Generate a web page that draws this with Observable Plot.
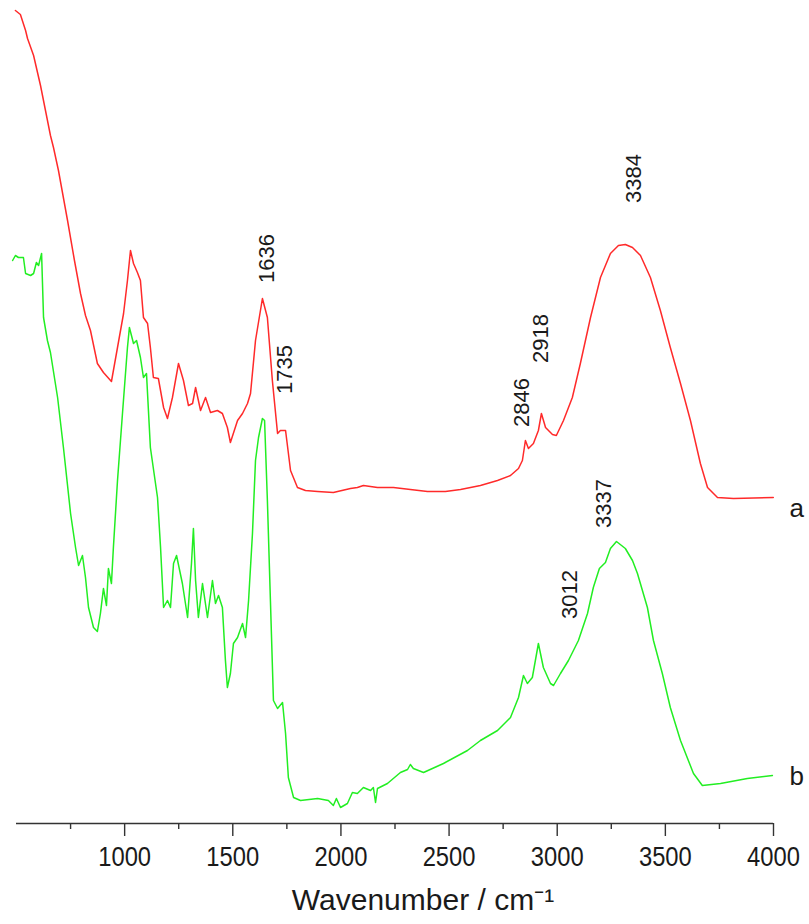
<!DOCTYPE html>
<html>
<head>
<meta charset="utf-8">
<script src="https://cdn.jsdelivr.net/npm/d3@7"></script>
<script src="https://cdn.jsdelivr.net/npm/@observablehq/plot@0.6"></script>
<style>
  html, body { margin: 0; padding: 0; background: #fff; }
  #chart svg { display: block; }
</style>
</head>
<body>
<div id="chart"></div>
<script>
// Spectrum a (red): wavenumber (cm-1) and relative intensity (a.u.)
const waveA = [495,518,542,551,579,611,634,657,671,694,736,768,796,819,842,874,902,939,967,995,1013,1027,1041,1059,1073,1087,1106,1119,1133,1156,1180,1198,1221,1249,1272,1295,1314,1328,1351,1374,1397,1429,1452,1475,1489,1522,1545,1568,1582,1605,1637,1660,1683,1707,1720,1744,1767,1799,1836,1892,1965,2044,2076,2104,2169,2243,2321,2400,2483,2553,2645,2724,2784,2821,2839,2853,2867,2890,2913,2927,2946,2978,2996,3029,3070,3107,3154,3200,3246,3283,3315,3348,3385,3431,3477,3523,3570,3616,3662,3695,3741,3815,3999];
const intensA = [813,809,793,785,768,738,713,688,676,653,603,563,530,508,493,460,451,442,476,510,543,573,560,551,543,506,500,476,446,445,416,405,426,460,443,418,420,436,413,426,411,413,410,396,381,403,410,420,430,483,525,506,443,390,393,393,353,336,333,332,331,335,336,338,336,336,334,332,332,334,338,343,348,355,363,383,375,380,393,410,396,389,388,403,426,460,506,546,570,578,579,576,568,546,513,476,440,403,360,336,326,325,326];

// Spectrum b (green)
const waveB = [482,495,509,532,542,565,579,592,602,616,625,643,657,690,717,750,773,787,805,819,833,856,874,888,902,916,925,939,948,967,990,1013,1022,1041,1055,1073,1087,1101,1119,1152,1166,1180,1198,1212,1226,1240,1267,1291,1309,1318,1328,1341,1360,1383,1406,1420,1434,1452,1466,1475,1489,1503,1522,1545,1559,1573,1591,1605,1619,1637,1647,1660,1674,1688,1707,1730,1744,1757,1781,1813,1892,1942,1965,1979,1998,2030,2053,2076,2104,2137,2150,2160,2169,2215,2275,2308,2321,2335,2382,2474,2585,2645,2724,2784,2821,2844,2862,2885,2899,2913,2936,2969,2983,3015,3052,3098,3140,3167,3195,3223,3246,3274,3315,3348,3371,3417,3445,3486,3523,3570,3630,3671,3755,3879,3995];
const intensB = [563,568,566,566,550,548,550,561,558,570,506,483,471,426,376,310,276,258,268,246,216,196,192,210,235,218,255,240,276,343,410,476,496,480,483,466,446,450,376,326,276,216,223,216,260,268,240,206,260,295,243,206,240,206,243,220,228,216,163,136,150,180,186,200,186,223,290,363,386,405,403,323,223,123,115,121,90,46,26,23,25,23,18,25,16,20,31,30,36,33,36,21,35,40,51,54,59,55,51,60,73,83,93,106,126,148,140,146,163,180,156,140,138,150,163,183,210,236,255,261,275,282,275,263,250,216,183,150,116,83,50,38,40,45,48];

// Peak annotations
const peakText = ["1636","1735","2846","2918","3384","3337","3012"];
const peakWave = [1656,1739,2839,2927,3357,3214,3061];
const peakIntens = [565,454,421,485,645,320,229];

// Curve names
const seriesNames = ["a","b"];
const seriesEndIntens = [315,47];

// Axis ticks
const majorTicks = [1000,1500,2000,2500,3000,3500,4000];
const minorTicks = [750,1250,1750,2250,2750,3250,3750];
const xTitle = "Wavenumber / cm\u207B\u00B9";

const dataA = waveA.map((w,i) => ({w, v: intensA[i]}));
const dataB = waveB.map((w,i) => ({w, v: intensB[i]}));
const peaks = peakText.map((t,i) => ({t, w: peakWave[i], v: peakIntens[i]}));
const names = seriesNames.map((t,i) => ({t, w: 4000, v: seriesEndIntens[i]}));

const labelFont = "'Liberation Sans',Arial,sans-serif";

const chart = Plot.plot({
  width: 809,
  height: 924,
  marginLeft: 16,
  marginRight: 36,
  marginTop: 0,
  marginBottom: 101,
  x: {domain: [500, 4000]},
  y: {domain: [0, 823], axis: null},
  marks: [
    Plot.ruleY([0], {stroke: "#333", strokeWidth: 1.6}),
    Plot.axisX({
      ticks: minorTicks,
      tickSize: 6,
      tickFormat: () => "",
      stroke: "#333",
      strokeWidth: 1.4,
      label: null
    }),
    Plot.axisX({
      ticks: majorTicks,
      tickSize: 13,
      tickPadding: 10,
      tickFormat: d => String(d),
      stroke: "#333",
      strokeWidth: 1.4,
      fill: "#1a1a1a",
      fontSize: 27,
      fontFamily: labelFont,
      label: null,
      ariaLabel: "major-ticks"
    }),
    Plot.line(dataA, {x: "w", y: "v", stroke: "#ff2a2a", strokeWidth: 1.5, curve: "linear"}),
    Plot.line(dataB, {x: "w", y: "v", stroke: "#22ee22", strokeWidth: 1.5, curve: "linear"}),
    Plot.text(peaks, {x: "w", y: "v", text: "t", rotate: -90, textAnchor: "middle", lineAnchor: "middle", fontSize: 22, fontFamily: labelFont, fill: "#1a1a1a"}),
    Plot.text(names, {x: "w", y: "v", text: "t", textAnchor: "start", lineAnchor: "middle", dx: 16, fontSize: 26, fontFamily: labelFont, fill: "#1a1a1a"}),
    Plot.text([xTitle], {frameAnchor: "bottom", text: d => d, dx: 28, dy: 77, lineAnchor: "middle", fontSize: 30, fontFamily: labelFont, fill: "#1a1a1a"})
  ]
});
// Condense the major tick labels horizontally, as in the reference
d3.select(chart).selectAll("text").each(function() {
  const t = this.textContent;
  if (majorTicks.map(String).includes(t)) {
    const tr = this.getAttribute("transform") || "";
    this.setAttribute("transform", tr + " scale(0.88,1)");
  }
});
document.getElementById("chart").appendChild(chart);
</script>
</body>
</html>
